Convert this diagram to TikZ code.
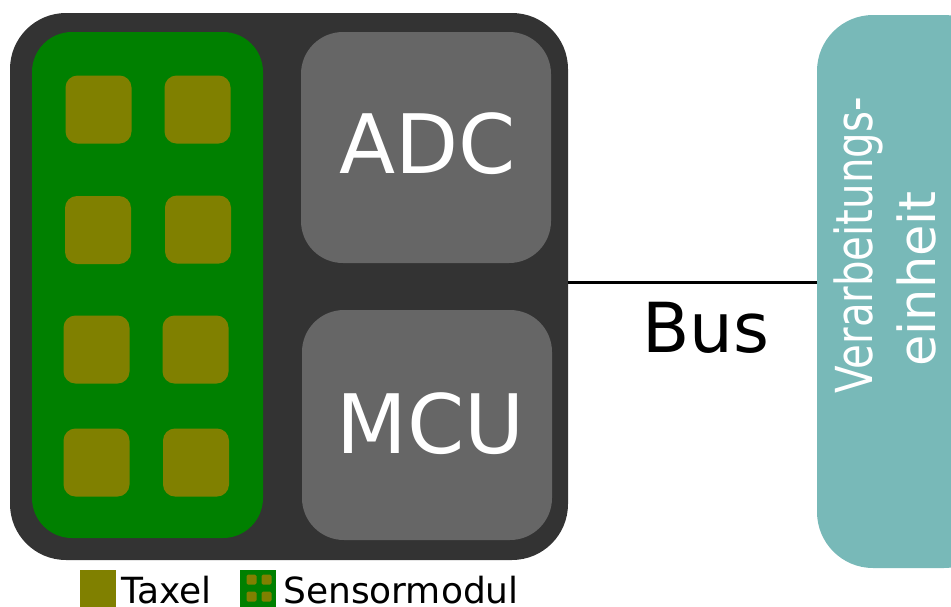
\documentclass[tikz,border=0pt]{standalone}
\usepackage{fontspec}
\setmainfont{DejaVu Sans}
\usepackage{graphicx}

\definecolor{boarddark}{HTML}{333333}
\definecolor{chipgray}{HTML}{666666}
\definecolor{modgreen}{HTML}{008000}
\definecolor{taxelolive}{HTML}{808000}
\definecolor{unitteal}{HTML}{78B9B8}

\tikzset{
  blk/.style={draw=none, inner sep=0pt, outer sep=0pt, anchor=center},
  taxel/.style={blk, fill=taxelolive, minimum width=66pt, minimum height=68pt, rounded corners=12pt},
  chip/.style={blk, fill=chipgray, minimum width=250pt, minimum height=231pt, rounded corners=42pt},
  bigtxt/.style={inner sep=0pt, text=white, anchor=base, font=\fontsize{82}{98}\selectfont},
  legtxt/.style={inner sep=0pt, anchor=base west, font=\fontsize{36}{43}\selectfont},
  minitaxel/.style={blk, fill=taxelolive, minimum width=10pt, minimum height=10pt, rounded corners=1.5pt}
}

\begin{document}
\begin{tikzpicture}[x=1pt, y=-1pt]
  \useasboundingbox (0,0) rectangle (951,606);
  \clip (0,0) rectangle (951,606);

  % sensor board with its module, converter and controller
  \node[blk, fill=boarddark, minimum width=558pt, minimum height=547pt, rounded corners=56pt] (board) at (289,286.5) {};
  \node[blk, fill=modgreen, minimum width=231pt, minimum height=506pt, rounded corners=40pt] (module) at (147.5,285) {};

  % taxel array, 2 x 4
  \node[taxel] (t11) at (98.5,109.5) {};
  \node[taxel] (t12) at (197.5,109.5) {};
  \node[taxel] (t21) at (98,230) {};
  \node[taxel] (t22) at (198,229.5) {};
  \node[taxel] (t31) at (96.5,349.5) {};
  \node[taxel] (t32) at (195.5,349.5) {};
  \node[taxel] (t41) at (96.5,462.5) {};
  \node[taxel] (t42) at (196,462.5) {};

  \node[chip] (adc) at (426,147.5) {};
  \node[bigtxt] (adclabel) at (428,173) {ADC};
  \node[chip, minimum height=230pt] (mcu) at (427,425) {};
  \node[bigtxt] (mculabel) at (431,453) {MCU};

  % processing unit, running off the right edge
  \node[blk, fill=unitteal, minimum width=183pt, minimum height=553pt, rounded corners=56pt] (proc) at (908.5,291.5) {};
  \node[inner sep=0pt, text=white, anchor=base, rotate=90, font=\fontsize{51}{60}\selectfont] (proc1) at (872,245.5) {\scalebox{0.79}[1]{Verarbeitungs-}};
  \node[inner sep=0pt, text=white, anchor=base, rotate=90, font=\fontsize{51}{60}\selectfont] (proc2) at (935,279) {einheit};

  % bus connection
  \coordinate (busy) at (700,282);
  \draw[line width=3pt] (board.east |- busy) -- (proc.west |- busy);
  \node[inner sep=0pt, anchor=base, font=\fontsize{69}{83}\selectfont] (buslabel) at (706,352) {Bus};

  % legend
  \node[blk, fill=taxelolive, minimum width=36pt, minimum height=37pt] (legtaxel) at (98,588.5) {};
  \node[legtxt] (legtaxeltxt) at (121,603) {Taxel};
  \node[blk, fill=modgreen, minimum width=36pt, minimum height=37pt] (legmod) at (257.5,588.5) {};
  \node[minitaxel] (m11) at (251.5,579.5) {};
  \node[minitaxel] (m12) at (266.5,579.5) {};
  \node[minitaxel] (m21) at (251.5,596.5) {};
  \node[minitaxel] (m22) at (266.5,596.5) {};
  \node[legtxt] (legmodtxt) at (283,603) {Sensormodul};
\end{tikzpicture}
\end{document}
